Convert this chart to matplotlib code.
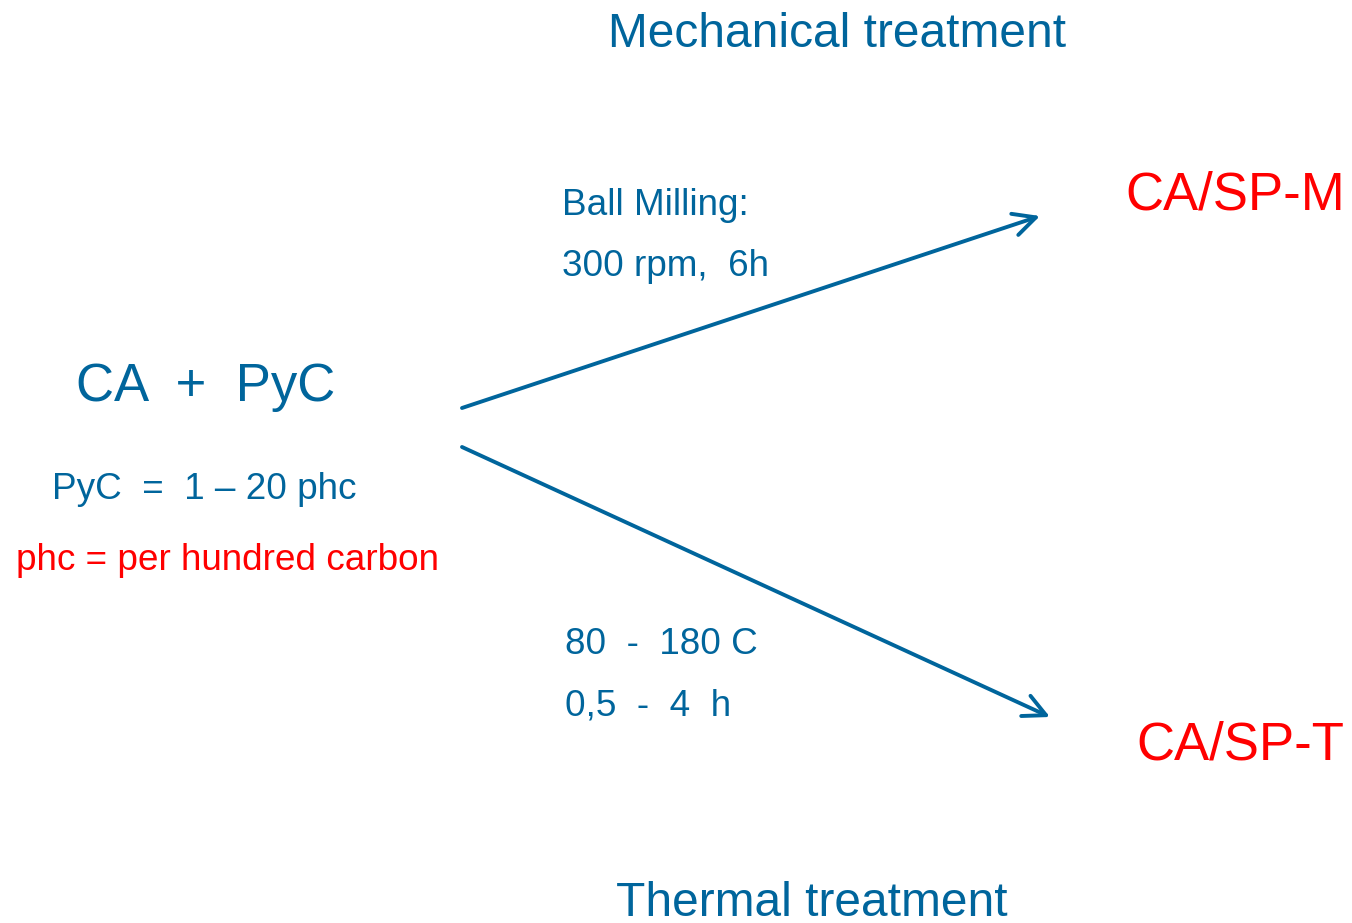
import matplotlib
matplotlib.use("Agg")
import matplotlib.pyplot as plt

plt.rcParams['font.family'] = ['Liberation Sans', 'DejaVu Sans']

BLUE = "#00659c"
RED = "#ff0000"

# Text content
title_top = "Mechanical treatment"
title_bottom = "Thermal treatment"
start_label = "CA  +  PyC"
start_notes = ["PyC  =  1 \u2013 20 phc", "phc = per hundred carbon"]
mech_conditions = ["Ball Milling:", "300 rpm,  6h"]
thermal_conditions = ["80  -  180 C", "0,5  -  4  h"]
products = ["CA/SP-M", "CA/SP-T"]

W, H = 1352, 923
fig = plt.figure(figsize=(W / 100, H / 100), dpi=100)
ax = fig.add_axes([0, 0, 1, 1])
ax.set_xlim(0, W)
ax.set_ylim(H, 0)
ax.axis('off')

small = 26.6
big = 38

# Titles
ax.text(837, 47, title_top, color=BLUE, fontsize=34.5, ha='center', va='baseline')
ax.text(812, 916, title_bottom, color=BLUE, fontsize=34.5, ha='center', va='baseline')

# Start material
ax.text(76, 401, start_label, color=BLUE, fontsize=big, ha='left', va='baseline')
ax.text(52, 499, start_notes[0], color=BLUE, fontsize=small, ha='left', va='baseline')
ax.text(16, 570, start_notes[1], color=RED, fontsize=small, ha='left', va='baseline')

# Conditions
ax.text(562, 215, mech_conditions[0], color=BLUE, fontsize=small, ha='left', va='baseline')
ax.text(562, 276, mech_conditions[1], color=BLUE, fontsize=small, ha='left', va='baseline')
ax.text(565, 654, thermal_conditions[0], color=BLUE, fontsize=small, ha='left', va='baseline')
ax.text(565, 715, thermal_conditions[1], color=BLUE, fontsize=small, ha='left', va='baseline')

# Products
ax.text(1345, 209, products[0], color=RED, fontsize=big, ha='right', va='baseline')
ax.text(1344, 760, products[1], color=RED, fontsize=big, ha='right', va='baseline')

# Arrows
arrow_style = dict(arrowstyle='->,head_length=0.8,head_width=0.4', color=BLUE, lw=2.8,
                   shrinkA=0, shrinkB=0, mutation_scale=20)
ax.annotate('', xy=(1040, 216), xytext=(462, 408), arrowprops=arrow_style)
ax.annotate('', xy=(1050, 717), xytext=(462, 447), arrowprops=arrow_style)

fig.savefig("out.png", dpi=100)
